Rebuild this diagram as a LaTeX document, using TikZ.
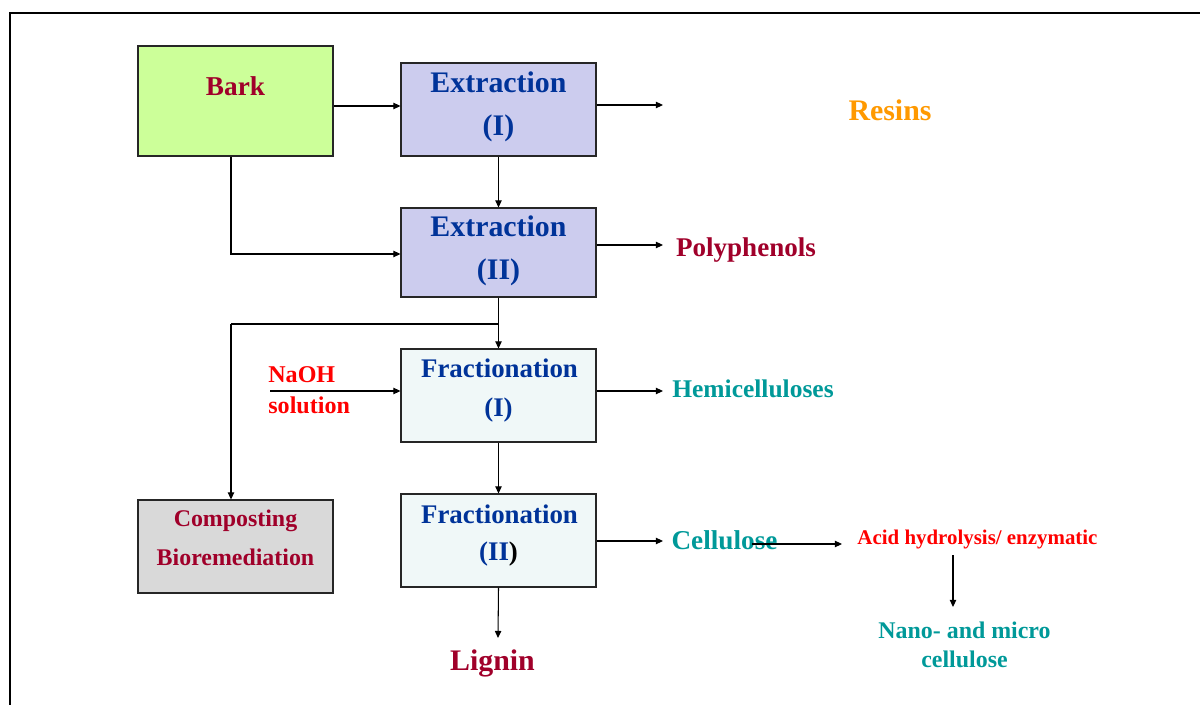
\documentclass[tikz,border=0pt]{standalone}
\usepackage{fontspec}
\setmainfont{Liberation Serif}
\usetikzlibrary{arrows.meta}
\definecolor{darkred}{HTML}{A0002A}
\definecolor{navy}{HTML}{003399}
\definecolor{teal2}{HTML}{009999}
\definecolor{orng}{HTML}{FF9900}
\definecolor{barkfill}{HTML}{CCFF99}
\definecolor{extfill}{HTML}{CCCCEE}
\definecolor{frfill}{HTML}{F0F8F8}
\definecolor{compfill}{HTML}{D9D9D9}
\tikzset{
  boxnode/.style={draw=black!85, line width=0.6pt, minimum width=3.9cm, inner sep=0pt},
  lbl/.style={anchor=base, inner sep=0pt, font=\bfseries},
  arr/.style={line width=0.6pt, -{Triangle[length=4pt,width=3.6pt]}},
  ln/.style={line width=0.6pt}
}
\newcommand{\fs}[1]{\fontsize{#1}{#1}\selectfont}
\begin{document}
\begin{tikzpicture}[x=0.02cm,y=-0.02cm]
\useasboundingbox (0,0) rectangle (1200,705);
% frame
\draw[line width=1.3pt] (10,705) -- (10,13) -- (1200,13);

% boxes
\node[boxnode, fill=barkfill, minimum height=2.2cm] (bark) at (235.5,101) {};
\node[boxnode, fill=extfill, minimum height=1.86cm] (extI) at (498.5,109.5) {};
\node[boxnode, fill=extfill, minimum height=1.78cm] (extII) at (498.5,252.5) {};
\node[boxnode, fill=frfill, minimum height=1.86cm] (frI) at (498.5,395.5) {};
\node[boxnode, fill=frfill, minimum height=1.86cm] (frII) at (498.5,540.5) {};
\node[boxnode, fill=compfill, minimum height=1.86cm] (comp) at (235.5,546.5) {};

% box texts
\node[lbl, text=darkred, font=\bfseries\fs{15.5}] (barkt) at (235.5,96) {Bark};
\node[lbl, text=navy, font=\bfseries\fs{17}] (extIa) at (498.5,93) {Extraction};
\node[lbl, text=navy, font=\bfseries\fs{17}] (extIb) at (498.5,136) {(I)};
\node[lbl, text=navy, font=\bfseries\fs{17}] (extIIa) at (498.5,237) {Extraction};
\node[lbl, text=navy, font=\bfseries\fs{17}] (extIIb) at (498.5,280) {(II)};
\node[lbl, text=navy, font=\bfseries\fs{15.3}] (frIa) at (499.5,378) {Fractionation};
\node[lbl, text=navy, font=\bfseries\fs{15.3}] (frIb) at (498.5,417) {(I)};
\node[lbl, text=navy, font=\bfseries\fs{15.3}] (frIIa) at (499.5,523) {Fractionation};
\node[lbl, text=navy, font=\bfseries\fs{15.3}] (frIIb) at (498.5,561) {(II\textcolor{black}{)}};
\node[lbl, text=darkred, font=\bfseries\fs{13.6}] (compa) at (235.5,526) {Composting};
\node[lbl, text=darkred, font=\bfseries\fs{13.6}] (compb) at (235.5,565) {Bioremediation};

% product texts
\node[lbl, text=orng, font=\bfseries\fs{17}] (resins) at (890,121) {Resins};
\node[lbl, text=darkred, font=\bfseries\fs{15.4}] (poly) at (746,257) {Polyphenols};
\node[lbl, text=teal2, font=\bfseries\fs{14.5}] (hemi) at (753,398) {Hemicelluloses};
\node[lbl, text=teal2, font=\bfseries\fs{15.5}] (cell) at (724.5,549) {Cellulose};
\node[lbl, text=red, font=\bfseries\fs{11.9}] (acid) at (977.5,544) {Acid hydrolysis/ enzymatic};
\node[lbl, text=teal2, font=\bfseries\fs{13.6}] (nanoa) at (964.5,638) {Nano- and micro};
\node[lbl, text=teal2, font=\bfseries\fs{13.6}] (nanob) at (964.5,667) {cellulose};
\node[lbl, text=darkred, font=\bfseries\fs{17}] (lignin) at (492.5,670) {Lignin};
\node[lbl, anchor=base west, text=red, font=\bfseries\fs{13.7}] (naoha) at (268,383) {NaOH};
\node[lbl, anchor=base west, text=red, font=\bfseries\fs{13.7}] (naohb) at (268,414) {solution};

% coordinates for free ends
\coordinate (resE) at (663,105);
\coordinate (polyE) at (663,245);
\coordinate (hemiE) at (663,391);
\coordinate (cellE) at (663,541);
\coordinate (naohS) at (270,391);
\coordinate (br) at (498,324);
\coordinate (cellS) at (752,544);
\coordinate (acidE) at (842,544);
\coordinate (acidS) at (953,555);
\coordinate (nanoN) at (953,607);
\coordinate (ligN) at (498,638);

% connectors
\draw[arr] (bark.east |- 0,106) -- (extI.west |- 0,106);
\draw[arr] (extI.east |- resE) -- (resE);
\draw[arr] (extI.south) -- (extII.north);
\draw[arr] (bark.south -| 231,0) |- (extII.west |- 0,254);
\draw[arr] (extII.east |- polyE) -- (polyE);
\draw[arr] (extII.south) -- (frI.north);
\draw[ln] (br) -- (231,324);
\draw[arr] (231,324) -- (comp.north -| 231,0);
\draw[arr] (naohS) -- (frI.west |- naohS);
\draw[arr] (frI.east |- hemiE) -- (hemiE);
\draw[arr] (frI.south) -- (frII.north);
\draw[arr] (frII.east |- cellE) -- (cellE);
\draw[arr] (cellS) -- (acidE);
\draw[arr] (acidS) -- (nanoN);
\draw[arr] (frII.south) -- (ligN);
\end{tikzpicture}
\end{document}
